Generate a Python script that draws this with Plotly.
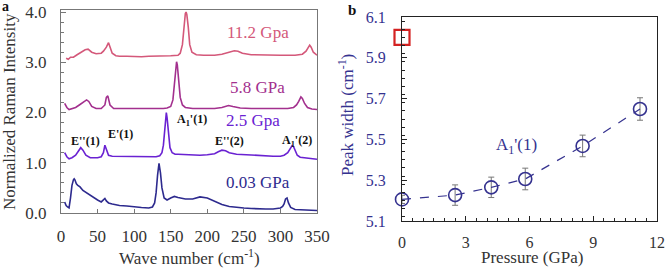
import plotly.graph_objects as go

# ---------------- Panel a: Raman spectra ----------------
x_003 = [5,7,9,11,13,15,17,18,19,21,23,26,30,35,40,45,50,55,58,60,62,65,70,80,90,100,110,120,125,128,130,132,134,136,138,141,145,150,155,160,170,180,190,200,210,215,220,230,240,250,260,270,280,290,295,300,303,305,307,309,311,314,320,330,340,350]
y_003 = [0.22,0.15,0.12,0.1,0.3,0.55,0.66,0.68,0.66,0.58,0.55,0.52,0.45,0.4,0.35,0.3,0.26,0.22,0.26,0.29,0.24,0.2,0.18,0.15,0.14,0.12,0.11,0.1,0.12,0.2,0.4,0.75,0.99,0.8,0.5,0.3,0.26,0.3,0.33,0.31,0.28,0.28,0.32,0.3,0.24,0.2,0.17,0.13,0.11,0.1,0.09,0.08,0.08,0.08,0.09,0.1,0.13,0.18,0.28,0.3,0.2,0.11,0.07,0.06,0.06,0.05]

x_25 = [5,8,11,15,20,24,27,30,34,40,45,50,55,58,60,62,65,70,80,90,100,110,120,130,135,138,140,142,144,145,147,149,152,156,160,170,180,190,200,210,215,220,225,230,240,250,260,270,280,290,300,305,310,314,316,318,320,323,327,335,345,350]
y_25 = [1.2,1.12,1.08,1.1,1.15,1.25,1.3,1.25,1.15,1.1,1.1,1.1,1.12,1.2,1.35,1.25,1.15,1.13,1.13,1.12,1.12,1.12,1.12,1.12,1.14,1.2,1.35,1.7,2.0,1.9,1.5,1.3,1.2,1.17,1.17,1.16,1.15,1.15,1.16,1.18,1.22,1.25,1.24,1.2,1.17,1.16,1.15,1.14,1.13,1.13,1.13,1.15,1.2,1.3,1.34,1.32,1.25,1.15,1.11,1.1,1.08,1.07]

x_58 = [5,8,11,15,20,25,30,35,38,42,48,55,60,62,64,67,72,80,90,100,110,120,130,140,145,150,153,155,157,158,159,161,163,166,170,180,190,200,210,220,225,229,235,245,260,280,300,310,318,322,325,328,330,333,337,343,350]
y_58 = [2.18,2.1,2.06,2.08,2.1,2.15,2.2,2.25,2.22,2.12,2.08,2.08,2.15,2.3,2.33,2.15,2.08,2.08,2.08,2.07,2.07,2.07,2.07,2.08,2.09,2.12,2.25,2.55,2.9,3.01,2.95,2.6,2.3,2.15,2.1,2.08,2.08,2.08,2.08,2.1,2.12,2.14,2.12,2.09,2.08,2.08,2.08,2.08,2.1,2.15,2.22,2.31,2.28,2.18,2.1,2.07,2.06]

x_112 = [7,10,13,17,22,28,33,37,42,48,55,58,62,65,67,70,75,80,90,100,110,120,130,140,150,160,163,166,168,170,171,172,174,176,179,185,195,210,220,230,237,242,248,260,280,300,320,330,335,338,340,342,345,350]
y_112 = [3.08,3.06,3.1,3.1,3.15,3.2,3.25,3.26,3.2,3.17,3.18,3.22,3.3,3.39,3.3,3.18,3.13,3.12,3.12,3.11,3.11,3.12,3.12,3.12,3.13,3.14,3.18,3.35,3.7,3.97,4.0,3.95,3.7,3.35,3.2,3.15,3.14,3.14,3.16,3.2,3.23,3.22,3.18,3.15,3.14,3.14,3.14,3.16,3.22,3.3,3.34,3.3,3.2,3.14]

spec_labels = ["0.03 GPa", "2.5 Gpa", "5.8 GPa", "11.2 Gpa"]
spec_colors = ["#2d2a8e", "#6a22d2", "#a3308e", "#d4587a"]
spec_label_pos = [(269, 0.6), (263, 1.84), (268, 2.49), (269, 3.6)]

peak_names = ["E''(1)", "E'(1)", "A<sub>1</sub>'(1)", "E''(2)", "A<sub>1</sub>'(2)"]
peak_pos = [(33, 1.44), (82, 1.57), (179, 1.85), (231, 1.44), (323, 1.44)]

# ---------------- Panel b: peak width ----------------
pressure = [0, 2.5, 4.2, 5.8, 8.5, 11.2]
width = [5.206, 5.227, 5.265, 5.306, 5.468, 5.649]
width_err = [0.02, 0.05, 0.05, 0.053, 0.053, 0.055]

FONT = "Liberation Serif"
NAVY = "#35328f"

fig = go.Figure()

series = [(x_003, y_003), (x_25, y_25), (x_58, y_58), (x_112, y_112)]
for (xs, ys), c in zip(series, spec_colors):
    fig.add_trace(go.Scatter(x=xs, y=ys, mode="lines", line=dict(color=c, width=1.6),
                             xaxis="x", yaxis="y", showlegend=False, cliponaxis=False, hoverinfo="skip"))

fig.add_trace(go.Scatter(x=pressure, y=width, mode="lines+markers",
                         line=dict(color=NAVY, width=1.2, dash="dash"),
                         marker=dict(symbol="circle-open", size=13, color=NAVY, line=dict(width=1.6, color=NAVY)),
                         error_y=dict(type="data", array=width_err, color="#777777", thickness=1, width=3),
                         xaxis="x2", yaxis="y2", showlegend=False, cliponaxis=False, hoverinfo="skip"))

fig.add_trace(go.Scatter(x=[0], y=[6.0], mode="markers",
                         marker=dict(symbol="square-open", size=15, color="#d42222", line=dict(width=2.2, color="#d42222")),
                         xaxis="x2", yaxis="y2", showlegend=False, cliponaxis=False, hoverinfo="skip"))

def A(**kw):
    d = dict(showarrow=False, xanchor="center", yanchor="middle")
    d.update(kw)
    return d

ann = []
for t, c, (px, py) in zip(spec_labels, spec_colors, spec_label_pos):
    ann.append(A(x=px, y=py, xref="x", yref="y", text=t, font=dict(family=FONT, size=17, color=c)))
for t, (px, py) in zip(peak_names, peak_pos):
    ann.append(A(x=px, y=py, xref="x", yref="y", text="<b>" + t + "</b>",
                 font=dict(family=FONT, size=12, color="#111111")))
ann.append(A(x=5.4, y=5.47, xref="x2", yref="y2", text="A<sub>1</sub>'(1)",
             font=dict(family=FONT, size=17, color=NAVY)))
# axis titles
ann.append(A(x=189/666, y=1-257/270, xref="paper", yref="paper", text="Wave number (cm<sup>-1</sup>)",
             font=dict(family=FONT, size=17, color="#333333")))
ann.append(A(x=532/666, y=1-257/270, xref="paper", yref="paper", text="Pressure (GPa)",
             font=dict(family=FONT, size=17, color="#333333")))
ann.append(A(x=10/666, y=1-112/270, xref="paper", yref="paper", text="Normalized Raman Intensity",
             textangle=-90, font=dict(family=FONT, size=17, color="#333333")))
ann.append(A(x=346/666, y=1-115/270, xref="paper", yref="paper", text="Peak width (cm<sup>-1</sup>)",
             textangle=-90, font=dict(family=FONT, size=17, color=NAVY)))
ann.append(A(x=5/666, y=1-6/270, xref="paper", yref="paper", text="<b>a</b>",
             font=dict(family=FONT, size=14, color="#111111")))
ann.append(A(x=352/666, y=1-10/270, xref="paper", yref="paper", text="<b>b</b>",
             font=dict(family=FONT, size=15, color="#111111")))

common = dict(showline=True, linewidth=1, mirror=True, showgrid=False, zeroline=False, automargin=False)

fig.update_layout(
    width=666, height=270, margin=dict(l=0, r=0, t=0, b=0, pad=0),
    paper_bgcolor="white", plot_bgcolor="white",
    font=dict(family=FONT),
    hovermode=False,
    annotations=ann,
    xaxis=dict(domain=[61/666, 317/666], range=[0, 350], tickvals=[0, 50, 100, 150, 200, 250, 300, 350],
               ticks="inside", ticklen=4, tickcolor="#777777", linecolor="#777777", ticklabelstandoff=8,
               tickfont=dict(family=FONT, size=17, color="#333333"), anchor="y", **common),
    yaxis=dict(domain=[1-213/270, 1-10/270], range=[0, 4.04], tickvals=[0, 1, 2, 3, 4], tickformat=".1f",
               ticks="inside", ticklen=5, tickcolor="#777777", linecolor="#777777", ticklabelstandoff=10,
               minor=dict(dtick=0.2, ticks="inside", ticklen=3, tickcolor="#777777"),
               tickfont=dict(family=FONT, size=17, color="#333333"), anchor="x", **common),
    xaxis2=dict(domain=[402/666, 657/666], range=[0, 12], tickvals=[0, 3, 6, 9, 12],
                ticks="inside", ticklen=5, tickcolor="#222222", linecolor="#222222", ticklabelstandoff=7,
                minor=dict(dtick=0.5, ticks="inside", ticklen=3, tickcolor="#222222"),
                tickfont=dict(family=FONT, size=16, color="#333333"), anchor="y2", **common),
    yaxis2=dict(domain=[1-221/270, 1-17/270], range=[5.1, 6.1], tickvals=[5.1, 5.3, 5.5, 5.7, 5.9, 6.1],
                ticks="inside", ticklen=5, tickcolor="#222222", linecolor="#222222", ticklabelstandoff=12,
                minor=dict(dtick=0.04, ticks="inside", ticklen=3, tickcolor="#222222"),
                tickfont=dict(family=FONT, size=16, color=NAVY), anchor="x2", **common),
)

fig.write_html("out.html", config={"displayModeBar": False},
               post_script="document.body.style.margin='0';document.body.style.overflow='hidden';")
